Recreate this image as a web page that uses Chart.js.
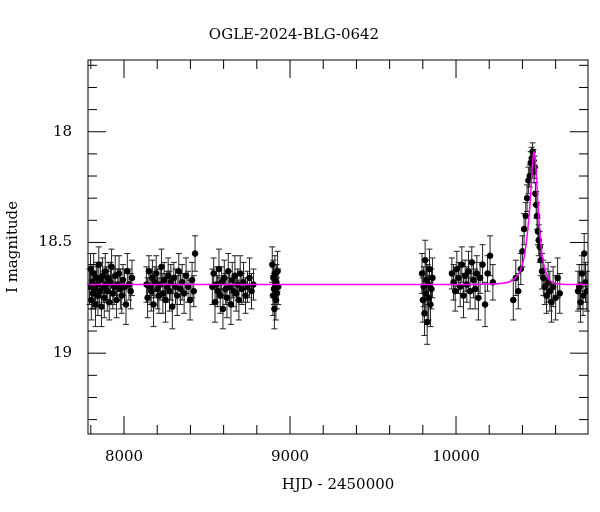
<!DOCTYPE html>
<html><head><meta charset="utf-8">
<script src="https://cdn.jsdelivr.net/npm/chart.js@4.4.1/dist/chart.umd.min.js"></script>
<style>body{margin:0;background:#fff}#wrap{width:600px;height:512px}</style>
</head><body><div id="wrap"><canvas id="c"></canvas></div>
<script>
// observations (HJD-2450000, I mag, error)
const hjd = [
 7792,7798,7803,7808,7812,7817,7822,7828,7833,7838,7843,7848,7853,7858,7864,7870,7876,7881,7887,7893,7899,7905,7911,7918,7925,7932,7940,7947,7955,7962,7970,7978,7986,7994,8003,8012,8020,8030,8040,8048,
 8135,8142,8150,8157,8164,8171,8178,8186,8194,8202,8210,8218,8226,8234,8242,8250,8258,8266,8274,8282,8291,8300,8310,8320,8330,8340,8350,8362,8374,8386,8398,8410,8420,8428,
 8532,8540,8548,8556,8564,8572,8580,8588,8596,8604,8612,8620,8628,8636,8644,8652,8660,8668,8676,8684,8692,8700,8710,8720,8732,8744,8756,8768,8780,
 8893,8897,8900,8903,8906,8909,8912,8915,8918,8921,8925,8929,
 9795,9800,9805,9810,9814,9818,9822,9826,9830,9835,9840,9846,9852,9858,
 9975,9985,9995,10005,10015,10025,10035,10045,10055,10065,10075,10085,10095,10105,10115,10125,10135,10145,10160,10175,10190,10205,10222,
 10345,10360,10375,10390,10400,10410,10420,10428,10436,10444,10450,10456,10461,10466,10470,10474,10478,10483,10488,10493,10498,10504,10510,10518,10526,10535,10545,10555,10565,10575,10585,10600,10612,10625,
 10735,10742,10750,10758,10765,10772,10780,10788
];
const mag = [
 18.70,18.62,18.76,18.68,18.73,18.64,18.71,18.78,18.66,18.69,18.74,18.60,18.72,18.67,18.79,18.65,18.70,18.75,18.63,18.69,18.72,18.66,18.77,18.68,18.61,18.73,18.70,18.65,18.76,18.69,18.64,18.71,18.74,18.67,18.70,18.78,18.63,18.69,18.72,18.66,
 18.69,18.75,18.63,18.70,18.72,18.66,18.78,18.68,18.64,18.71,18.74,18.69,18.61,18.73,18.67,18.76,18.70,18.65,18.72,18.68,18.79,18.66,18.70,18.74,18.63,18.71,18.68,18.73,18.65,18.70,18.76,18.67,18.72,18.55,
 18.70,18.64,18.77,18.69,18.72,18.62,18.74,18.68,18.80,18.66,18.71,18.75,18.63,18.70,18.78,18.67,18.72,18.65,18.73,18.69,18.76,18.64,18.71,18.68,18.74,18.70,18.66,18.72,18.69,
 18.60,18.74,18.66,18.71,18.80,18.64,18.69,18.76,18.68,18.73,18.63,18.70,
 18.64,18.76,18.70,18.82,18.58,18.73,18.67,18.86,18.69,18.75,18.62,18.78,18.71,18.66,
 18.64,18.68,18.72,18.62,18.66,18.70,18.60,18.74,18.65,18.69,18.63,18.72,18.59,18.67,18.71,18.64,18.75,18.66,18.60,18.78,18.64,18.56,18.68,
 18.76,18.66,18.72,18.62,18.54,18.44,18.38,18.30,18.22,18.20,18.14,18.12,18.09,18.13,18.18,18.16,18.28,18.33,18.38,18.45,18.49,18.52,18.58,18.63,18.66,18.70,18.74,18.68,18.72,18.77,18.70,18.75,18.66,18.73,
 18.72,18.70,18.77,18.64,18.74,18.55,18.68,18.72
];
const err = [
 .08,.07,.09,.08,.07,.09,.08,.10,.07,.08,.09,.08,.07,.08,.09,.08,.07,.09,.08,.08,.09,.07,.08,.09,.08,.07,.08,.09,.08,.07,.08,.09,.08,.07,.08,.09,.08,.07,.08,.08,
 .08,.09,.07,.08,.09,.08,.10,.07,.08,.09,.08,.07,.08,.09,.08,.10,.07,.08,.09,.08,.10,.07,.08,.09,.08,.07,.08,.09,.08,.07,.09,.08,.07,.08,
 .08,.07,.09,.08,.07,.09,.08,.07,.09,.08,.07,.09,.08,.07,.09,.08,.07,.09,.08,.07,.09,.08,.07,.09,.08,.07,.09,.08,.07,
 .08,.09,.08,.07,.09,.08,.07,.09,.08,.07,.09,.08,
 .09,.10,.09,.10,.09,.10,.09,.10,.09,.10,.09,.10,.09,.09,
 .07,.08,.09,.08,.07,.09,.08,.10,.07,.08,.09,.08,.07,.08,.09,.08,.10,.07,.09,.10,.08,.09,.08,
 .09,.08,.08,.07,.07,.07,.06,.06,.06,.05,.05,.05,.04,.05,.05,.05,.05,.06,.06,.06,.07,.07,.07,.08,.08,.08,.08,.09,.09,.09,.09,.10,.09,.09,
 .09,.10,.09,.08,.09,.09,.09,.09
];
// model curve
const modelT = [7780,9000,10000,10200,10280,10330,10370,10400,10420,10435,10448,10458,10465,10470,10476,10484,10494,10505,10518,10535,10555,10580,10620,10680,10800];
const modelM = [18.69,18.69,18.69,18.688,18.684,18.675,18.65,18.60,18.52,18.42,18.30,18.18,18.11,18.09,18.12,18.20,18.33,18.45,18.55,18.62,18.66,18.68,18.688,18.69,18.69];
const xTicks = [8000,9000,10000];
const yTicks = [18,18.5,19];

const xMin=7783, xMax=10795, yMin=17.676, yMax=19.365;
const pts = hjd.map((t,i)=>({x:t,y:mag[i]}));
const model = modelT.map((t,i)=>({x:t,y:modelM[i]}));

const frame = {
  id:'frame',
  beforeDatasetsDraw(ch){
    const {ctx, scales:{x,y}} = ch;
    ctx.save(); ctx.strokeStyle='#222'; ctx.lineWidth=1;
    hjd.forEach((t,i)=>{
      const px=x.getPixelForValue(t), y1=y.getPixelForValue(mag[i]-err[i]), y2=y.getPixelForValue(mag[i]+err[i]);
      ctx.beginPath(); ctx.moveTo(px,y1); ctx.lineTo(px,y2);
      ctx.moveTo(px-3,y1); ctx.lineTo(px+3,y1); ctx.moveTo(px-3,y2); ctx.lineTo(px+3,y2); ctx.stroke();
    });
    ctx.restore();
  },
  afterDraw(ch){
    const {ctx, chartArea:a, scales:{x,y}} = ch;
    ctx.save(); ctx.strokeStyle='#000'; ctx.lineWidth=1;
    ctx.strokeRect(a.left,a.top,a.right-a.left,a.bottom-a.top);
    ctx.beginPath();
    for(let v=7800; v<=10800; v+=200){
      const px=x.getPixelForValue(v); if(px<a.left||px>a.right) continue;
      const L = v%1000===0?18:9;
      ctx.moveTo(px,a.bottom); ctx.lineTo(px,a.bottom-L); ctx.moveTo(px,a.top); ctx.lineTo(px,a.top+L);
    }
    for(let k=177; k<=193; k++){
      const v=k/10, py=y.getPixelForValue(v); if(py<a.top||py>a.bottom) continue;
      const L = k%5===0?18:9;
      ctx.moveTo(a.left,py); ctx.lineTo(a.left+L,py); ctx.moveTo(a.right,py); ctx.lineTo(a.right-L,py);
    }
    ctx.stroke(); ctx.restore();
  }
};

const font = {family:'DejaVu Serif', size:15};
new Chart(document.getElementById('c'), {
  type:'scatter',
  data:{datasets:[
    {data:model, type:'line', borderColor:'#ff00ff', borderWidth:1.5, pointRadius:0, tension:0.4, order:0},
    {data:pts, backgroundColor:'#000', borderColor:'#000', pointRadius:2.8, order:1}
  ]},
  options:{
    responsive:true, maintainAspectRatio:false, animation:false,
    layout:{padding:{top:12,right:12,left:0,bottom:14}},
    plugins:{legend:{display:false}, tooltip:{enabled:false},
      title:{display:true, text:'OGLE-2024-BLG-0642', color:'#000', font:{family:'DejaVu Serif', size:15, weight:'normal'}, padding:{top:14,bottom:16}}},
    scales:{
      x:{type:'linear', min:xMin, max:xMax, grid:{display:false}, border:{display:false},
         afterBuildTicks(s){s.ticks=xTicks.map(v=>({value:v}));},
         ticks:{color:'#000', font, padding:6, callback:v=>String(v)},
         title:{display:true, text:'HJD - 2450000', color:'#000', font, padding:{top:4}}},
      y:{type:'linear', reverse:true, min:yMin, max:yMax, grid:{display:false}, border:{display:false},
         afterBuildTicks(s){s.ticks=yTicks.map(v=>({value:v}));},
         ticks:{color:'#000', font, padding:8, callback:v=>String(v)},
         afterFit(s){s.width=88;},
         title:{display:true, text:'I magnitude', color:'#000', font, padding:{bottom:6}}}
    }
  },
  plugins:[frame]
});
</script></body></html>
